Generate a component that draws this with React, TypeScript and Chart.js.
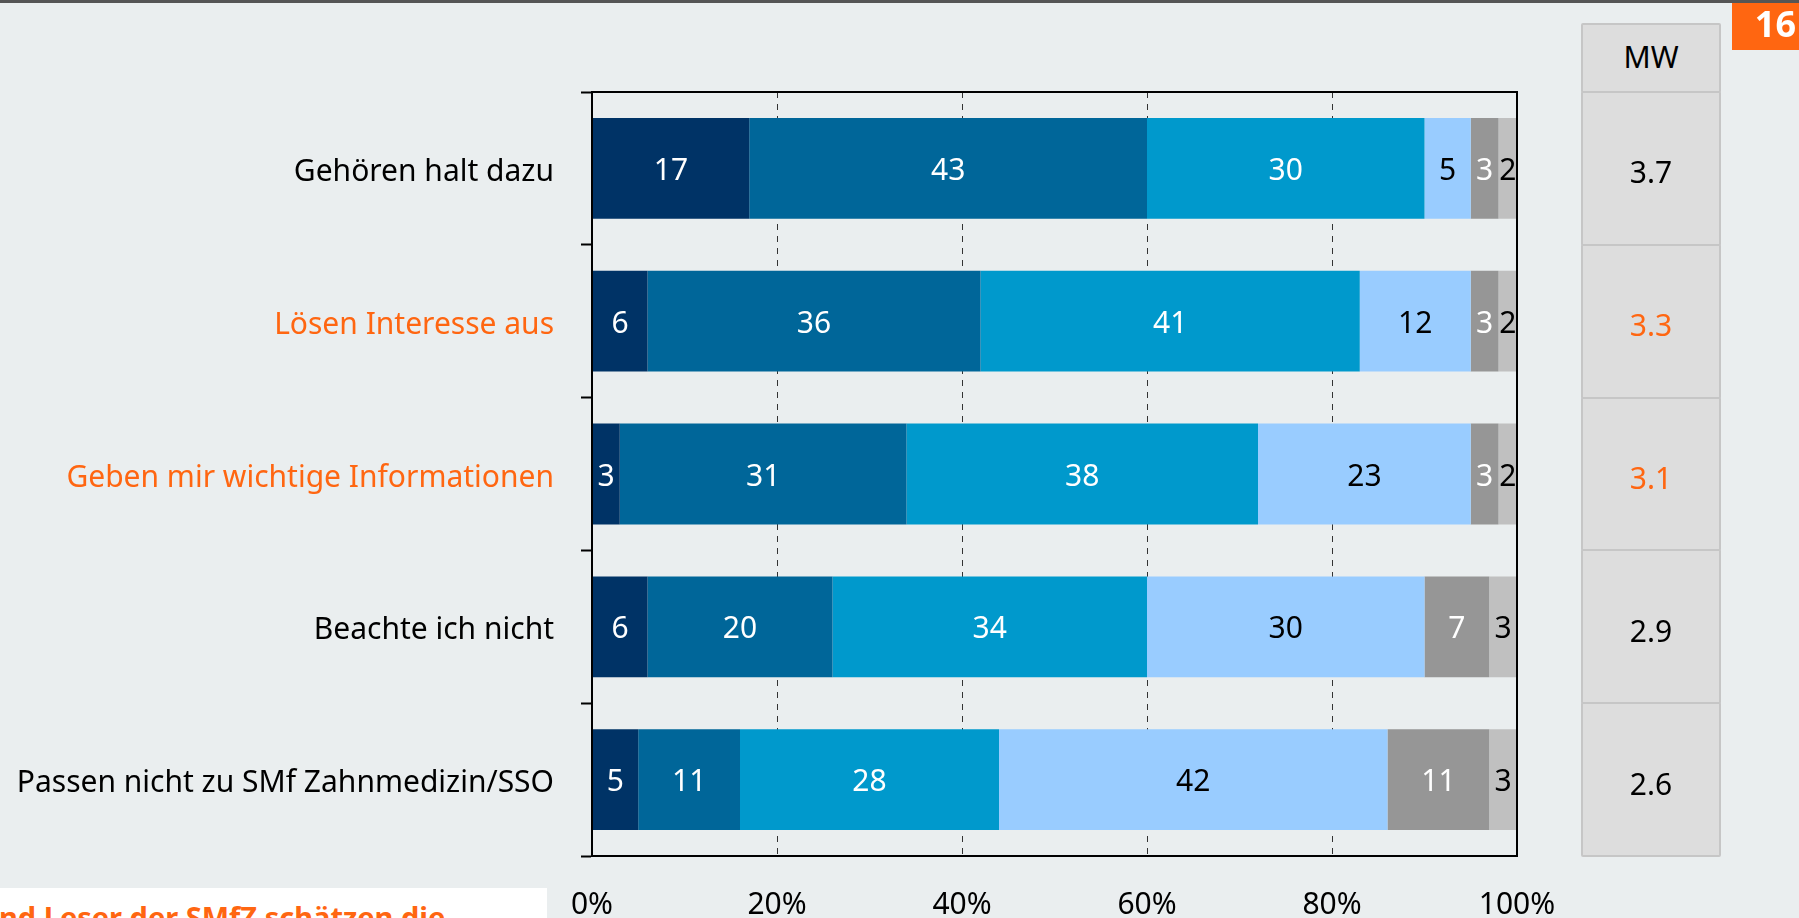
import React, { useEffect, useRef } from 'react';
import { Chart, registerables } from 'chart.js';

Chart.register(...registerables);

// ---------- data ----------
const categories = [
  'Gehören halt dazu',
  'Lösen Interesse aus',
  'Geben mir wichtige Informationen',
  'Beachte ich nicht',
  'Passen nicht zu SMf Zahnmedizin/SSO',
];
const highlightedRows = [false, true, true, false, false];
const seriesNames = ['Stufe 1', 'Stufe 2', 'Stufe 3', 'Stufe 4', 'Stufe 5', 'Stufe 6'];
const series1 = [17, 6, 3, 6, 5];
const series2 = [43, 36, 31, 20, 11];
const series3 = [30, 41, 38, 34, 28];
const series4 = [5, 12, 23, 30, 42];
const series5 = [3, 3, 3, 7, 11];
const series6 = [2, 2, 2, 3, 3];
const mwHeader = 'MW';
const mwValues = ['3.7', '3.3', '3.1', '2.9', '2.6'];
const xTickValues = [0, 20, 40, 60, 80, 100];
const pageNumber = '16';
const footerText = 'nd Leser der SMfZ schätzen die';

// ---------- styles ----------
const FONT = '"Noto Sans", sans-serif';
const ORANGE = '#FF6611';
const BG = '#EAEEEF';
const seriesColors = ['#003366', '#006699', '#0099CC', '#99CCFF', '#969696', '#C0C0C0'];
const seriesLabelColors = ['#FFFFFF', '#FFFFFF', '#FFFFFF', '#000000', '#FFFFFF', '#000000'];

const W = 1799;
const H = 918;
const PLOT_LEFT = 592;
const PLOT_RIGHT = 1517;
const PLOT_TOP = 92;
const PLOT_BOTTOM = 856;

const barLabelsPlugin = {
  id: 'barLabels',
  afterDatasetsDraw(chart: any) {
    const ctx = chart.ctx;
    ctx.save();
    ctx.font = `30px ${FONT}`;
    ctx.textAlign = 'center';
    ctx.textBaseline = 'middle';
    chart.data.datasets.forEach((ds: any, di: number) => {
      const meta = chart.getDatasetMeta(di);
      meta.data.forEach((el: any, i: number) => {
        const p = el.getProps(['x', 'base', 'y'], true);
        ctx.fillStyle = seriesLabelColors[di];
        ctx.fillText(String(ds.data[i]), (p.x + p.base) / 2, p.y + 3);
      });
    });
    ctx.restore();
  },
};

const framePlugin = {
  id: 'frame',
  afterDraw(chart: any) {
    const { ctx, chartArea } = chart;
    ctx.save();
    ctx.strokeStyle = '#000';
    ctx.lineWidth = 2;
    ctx.strokeRect(chartArea.left, chartArea.top, chartArea.right - chartArea.left, chartArea.bottom - chartArea.top);
    ctx.restore();
  },
};

function ChartCanvas() {
  const ref = useRef<HTMLCanvasElement | null>(null);
  useEffect(() => {
    if (!ref.current) return;
    const allSeries = [series1, series2, series3, series4, series5, series6];
    const chart = new Chart(ref.current, {
      type: 'bar',
      data: {
        labels: categories,
        datasets: allSeries.map((d, i) => ({
          label: seriesNames[i],
          data: d,
          backgroundColor: seriesColors[i],
          borderWidth: 0,
          barPercentage: 0.66,
          categoryPercentage: 1,
        })),
      },
      options: {
        indexAxis: 'y',
        responsive: false,
        animation: false,
        devicePixelRatio: 1,
        layout: { padding: { top: PLOT_TOP, right: W - PLOT_RIGHT, bottom: 0, left: 0 } },
        plugins: { legend: { display: false }, tooltip: { enabled: false } },
        scales: {
          x: {
            stacked: true,
            min: 0,
            max: 100,
            afterBuildTicks: (axis: any) => {
              axis.ticks = xTickValues.map((v) => ({ value: v }));
            },
            afterFit: (axis: any) => {
              axis.height = H - PLOT_BOTTOM;
            },
            ticks: {
              callback: (v: any) => `${v}%`,
              font: { family: FONT, size: 30 },
              color: '#000',
              padding: 31,
              maxRotation: 0,
            },
            grid: {
              drawTicks: false,
              color: (c: any) => (c.tick && (c.tick.value === 0 || c.tick.value === 100) ? 'rgba(0,0,0,0)' : '#333333'),
              lineWidth: 1,
            },
            border: { display: true, color: '#000', width: 2, dash: [6, 6] },
          },
          y: {
            stacked: true,
            afterFit: (axis: any) => {
              axis.width = PLOT_LEFT;
            },
            ticks: {
              font: { family: FONT, size: 30 },
              color: (c: any) => (highlightedRows[c.index] ? ORANGE : '#000'),
              padding: 27,
              labelOffset: 4,
            },
            grid: {
              offset: true,
              drawOnChartArea: false,
              drawTicks: true,
              tickLength: 11,
              tickColor: '#000',
              tickWidth: 2,
              color: '#000',
            },
            border: { display: true, color: '#000', width: 2 },
          },
        },
      },
      plugins: [barLabelsPlugin, framePlugin],
    } as any);
    return () => chart.destroy();
  }, []);
  return <canvas ref={ref} width={W} height={H} style={{ position: 'absolute', left: 0, top: 0, width: W, height: H }} />;
}

export default function App() {
  const band = (PLOT_BOTTOM - PLOT_TOP) / categories.length;
  return (
    <div
      style={{
        position: 'fixed',
        left: 0,
        top: 0,
        width: W,
        height: H,
        overflow: 'hidden',
        background: BG,
        fontFamily: FONT,
      }}
    >
      <div style={{ position: 'absolute', left: 0, top: 0, width: W, height: 3, background: '#555555' }} />
      <ChartCanvas />
      {/* MW table */}
      <div
        style={{
          position: 'absolute',
          left: 1581,
          top: 23,
          width: 140,
          height: PLOT_TOP - 23 + 1,
          boxSizing: 'border-box',
          border: '2px solid #C6C6C6',
          borderRadius: 2,
          background: '#DDDDDD',
          display: 'flex',
          alignItems: 'center',
          justifyContent: 'center',
          fontSize: 30,
          color: '#000',
          paddingBottom: 4,
        }}
      >
        {mwHeader}
      </div>
      {mwValues.map((v, i) => (
        <div
          key={i}
          style={{
            position: 'absolute',
            left: 1581,
            top: PLOT_TOP + band * i - 1,
            width: 140,
            height: band + 2,
            boxSizing: 'border-box',
            border: '2px solid #C6C6C6',
            borderRadius: 2,
            background: '#DDDDDD',
            display: 'flex',
            alignItems: 'center',
            justifyContent: 'center',
            fontSize: 30,
            paddingTop: 7,
            color: highlightedRows[i] ? ORANGE : '#000',
          }}
        >
          {v}
        </div>
      ))}
      {/* page number */}
      <div
        style={{
          position: 'absolute',
          left: 1732,
          top: 3,
          width: W - 1732,
          height: 47,
          background: ORANGE,
          color: '#fff',
          fontWeight: 700,
          fontSize: 36,
          lineHeight: '42px',
          textAlign: 'right',
          paddingRight: 3,
          boxSizing: 'border-box',
        }}
      >
        {pageNumber}
      </div>
      {/* footer text box */}
      <div
        style={{
          position: 'absolute',
          left: 0,
          top: 888,
          width: 547,
          height: H - 888,
          background: '#FFFFFF',
          overflow: 'hidden',
        }}
      >
        <div
          style={{
            position: 'absolute',
            left: -1,
            top: 9,
            whiteSpace: 'nowrap',
            color: ORANGE,
            fontWeight: 700,
            fontSize: 29,
            lineHeight: '40px',
          }}
        >
          {footerText}
        </div>
      </div>
    </div>
  );
}
